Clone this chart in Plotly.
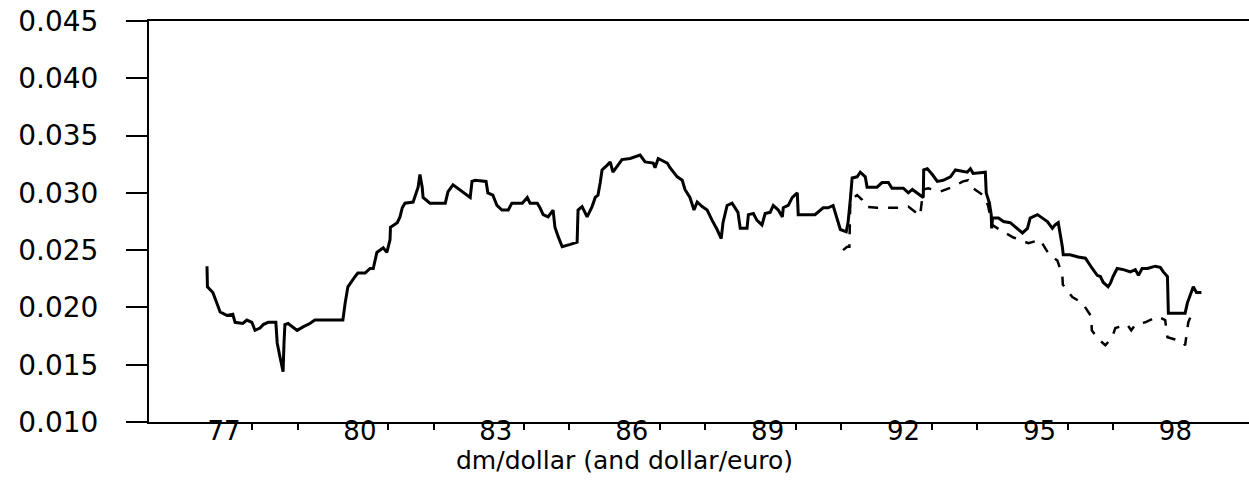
import plotly.graph_objects as go

# Solid series: dm/dollar
solid_year = [1977.00, 1977.01, 1977.13, 1977.22, 1977.29, 1977.44, 1977.57, 1977.62, 1977.79, 1977.88,
              1977.99, 1978.06, 1978.17, 1978.24, 1978.35, 1978.52, 1978.55, 1978.61, 1978.68, 1978.70,
              1978.72, 1978.79, 1978.99, 1979.12, 1979.27, 1979.38, 1979.50, 1979.83, 1980.00, 1980.05,
              1980.11, 1980.27, 1980.33, 1980.49, 1980.60, 1980.67, 1980.75, 1980.89, 1980.97, 1981.04,
              1981.05, 1981.20, 1981.26, 1981.31, 1981.37, 1981.55, 1981.62, 1981.66, 1981.70, 1981.75,
              1981.77, 1981.92, 1982.26, 1982.32, 1982.43, 1982.54, 1982.65, 1982.81, 1982.85, 1982.92,
              1983.16, 1983.20, 1983.31, 1983.40, 1983.51, 1983.65, 1983.73, 1983.96, 1984.07, 1984.13,
              1984.29, 1984.35, 1984.42, 1984.53, 1984.64, 1984.68, 1984.75, 1984.84, 1985.02, 1985.17,
              1985.19, 1985.28, 1985.39, 1985.50, 1985.57, 1985.63, 1985.68, 1985.72, 1985.83, 1985.90,
              1985.96, 1986.05, 1986.16, 1986.34, 1986.56, 1986.67, 1986.85, 1986.89, 1986.96, 1987.16,
              1987.22, 1987.38, 1987.49, 1987.55, 1987.66, 1987.75, 1987.82, 1987.93, 1988.04, 1988.15,
              1988.26, 1988.35, 1988.39, 1988.48, 1988.59, 1988.72, 1988.77, 1988.92, 1988.95, 1989.06,
              1989.14, 1989.25, 1989.32, 1989.43, 1989.50, 1989.61, 1989.70, 1989.72, 1989.83, 1989.92,
              1990.03, 1990.05, 1990.42, 1990.60, 1990.71, 1990.82, 1990.87, 1990.91, 1990.98, 1991.11,
              1991.15, 1991.20, 1991.24, 1991.35, 1991.42, 1991.53, 1991.57, 1991.79, 1991.90, 1992.04,
              1992.12, 1992.37, 1992.48, 1992.57, 1992.74, 1992.81, 1992.82, 1992.90, 1993.01, 1993.12,
              1993.25, 1993.41, 1993.52, 1993.78, 1993.85, 1993.91, 1994.18, 1994.20, 1994.27, 1994.31,
              1994.32, 1994.34, 1994.47, 1994.58, 1994.73, 1994.88, 1995.00, 1995.11, 1995.17, 1995.33,
              1995.44, 1995.55, 1995.66, 1995.72, 1995.79, 1995.83, 1995.88, 1995.90, 1996.05, 1996.23,
              1996.39, 1996.54, 1996.65, 1996.72, 1996.78, 1996.89, 1996.94, 1997.00, 1997.09, 1997.23,
              1997.38, 1997.49, 1997.56, 1997.64, 1997.76, 1997.93, 1998.04, 1998.11, 1998.20, 1998.22,
              1998.33, 1998.59, 1998.64, 1998.70, 1998.77, 1998.84, 1998.95]
solid_val = [0.0236, 0.0218, 0.0213, 0.0204, 0.0196, 0.0193, 0.0194, 0.0187, 0.0186, 0.0189,
             0.0187, 0.0180, 0.0182, 0.0185, 0.0187, 0.0187, 0.0169, 0.0157, 0.0144, 0.0169,
             0.0185, 0.0186, 0.0180, 0.0183, 0.0186, 0.0189, 0.0189, 0.0189, 0.0189, 0.0204,
             0.0218, 0.0227, 0.0230, 0.0230, 0.0234, 0.0234, 0.0248, 0.0252, 0.0248, 0.0259,
             0.0270, 0.0274, 0.0279, 0.0287, 0.0291, 0.0292, 0.0300, 0.0305, 0.0316, 0.0305,
             0.0296, 0.0291, 0.0291, 0.0301, 0.0307, 0.0304, 0.0301, 0.0296, 0.0310, 0.0311,
             0.0310, 0.0300, 0.0298, 0.0289, 0.0285, 0.0285, 0.0291, 0.0291, 0.0296, 0.0291,
             0.0291, 0.0287, 0.0281, 0.0279, 0.0285, 0.0270, 0.0262, 0.0253, 0.0255, 0.0257,
             0.0285, 0.0288, 0.0279, 0.0288, 0.0296, 0.0298, 0.0309, 0.0320, 0.0324, 0.0327,
             0.0318, 0.0323, 0.0329, 0.0330, 0.0333, 0.0327, 0.0326, 0.0322, 0.0330, 0.0326,
             0.0322, 0.0314, 0.0311, 0.0303, 0.0296, 0.0285, 0.0292, 0.0288, 0.0285, 0.0276,
             0.0268, 0.0260, 0.0274, 0.0289, 0.0291, 0.0283, 0.0269, 0.0269, 0.0281, 0.0282,
             0.0276, 0.0272, 0.0282, 0.0283, 0.0289, 0.0285, 0.0279, 0.0287, 0.0289, 0.0296,
             0.0300, 0.0281, 0.0281, 0.0287, 0.0287, 0.0289, 0.0282, 0.0276, 0.0268, 0.0266,
             0.0274, 0.0294, 0.0313, 0.0314, 0.0318, 0.0314, 0.0305, 0.0305, 0.0309, 0.0309,
             0.0304, 0.0304, 0.0300, 0.0303, 0.0298, 0.0296, 0.0320, 0.0321, 0.0316, 0.0310,
             0.0311, 0.0314, 0.0320, 0.0318, 0.0321, 0.0317, 0.0318, 0.0300, 0.0291, 0.0281,
             0.0269, 0.0278, 0.0278, 0.0275, 0.0274, 0.0269, 0.0265, 0.0269, 0.0278, 0.0281,
             0.0278, 0.0275, 0.0269, 0.0272, 0.0274, 0.0266, 0.0253, 0.0246, 0.0246, 0.0244,
             0.0243, 0.0234, 0.0228, 0.0227, 0.0222, 0.0218, 0.0221, 0.0227, 0.0234, 0.0233,
             0.0231, 0.0233, 0.0228, 0.0234, 0.0234, 0.0236, 0.0235, 0.0231, 0.0227, 0.0195,
             0.0195, 0.0195, 0.0204, 0.0211, 0.0218, 0.0213, 0.0213]

# Dashed series: dollar/euro based
dash_year = [1991.04, 1991.13, 1991.18, 1991.20, 1991.35, 1991.46, 1991.53, 1991.79, 1992.08, 1992.37,
             1992.48, 1992.63, 1992.74, 1992.81, 1992.92, 1993.18, 1993.45, 1993.69, 1993.80, 1993.91,
             1994.13, 1994.24, 1994.33, 1994.62, 1994.80, 1994.95, 1995.13, 1995.39, 1995.59, 1995.77,
             1995.88, 1995.89, 1996.10, 1996.32, 1996.52, 1996.53, 1996.68, 1996.83, 1996.98, 1997.05,
             1997.31, 1997.40, 1997.49, 1997.71, 1997.98, 1998.15, 1998.20, 1998.37, 1998.53, 1998.59,
             1998.66, 1998.77]
dash_val = [0.0250, 0.0253, 0.0253, 0.0294, 0.0298, 0.0294, 0.0288, 0.0287, 0.0287, 0.0287,
            0.0288, 0.0283, 0.0280, 0.0303, 0.0304, 0.0301, 0.0305, 0.0310, 0.0311, 0.0304,
            0.0298, 0.0289, 0.0272, 0.0265, 0.0261, 0.0259, 0.0256, 0.0259, 0.0246, 0.0241,
            0.0228, 0.0220, 0.0209, 0.0204, 0.0192, 0.0180, 0.0172, 0.0167, 0.0174, 0.0182,
            0.0185, 0.0180, 0.0185, 0.0187, 0.0192, 0.0189, 0.0174, 0.0172, 0.0170, 0.0167,
            0.0187, 0.0198]

label_years = [1977, 1980, 1983, 1986, 1989, 1992, 1995, 1998]
label_text = ["77", "80", "83", "86", "89", "92", "95", "98"]
minor_years = [y for y in range(1978, 1998) if y not in label_years]
y_ticks = [0.010, 0.015, 0.020, 0.025, 0.030, 0.035, 0.040, 0.045]

FONT = "DejaVu Sans"

fig = go.Figure()
fig.add_trace(go.Scatter(x=dash_year, y=dash_val, mode="lines",
                         line=dict(color="black", width=2.5, dash="10px,10px"),
                         showlegend=False, hoverinfo="skip"))
fig.add_trace(go.Scatter(x=solid_year, y=solid_val, mode="lines",
                         line=dict(color="black", width=3),
                         showlegend=False, hoverinfo="skip"))

fig.update_layout(
    width=1249, height=481,
    margin=dict(l=149, r=0, t=21, b=59, pad=0),
    paper_bgcolor="white", plot_bgcolor="white",
    font=dict(family=FONT, color="black"),
    xaxis=dict(range=[1975.72, 2000.0], showgrid=False, zeroline=False,
               showline=True, linecolor="black", linewidth=2, mirror=True,
               tickmode="array", tickvals=label_years, ticktext=label_text,
               ticks="", ticklabelshift=17, ticklabelstandoff=-15,
               tickfont=dict(size=26, family=FONT),
               minor=dict(tickmode="array", tickvals=minor_years, ticks="outside",
                          ticklen=6, tickwidth=2, tickcolor="black", showgrid=False)),
    yaxis=dict(range=[0.010, 0.045], showgrid=False, zeroline=False,
               showline=True, linecolor="black", linewidth=2,
               tickmode="array", tickvals=y_ticks, tickformat=".3f",
               ticks="outside", ticklen=21, tickwidth=2, tickcolor="black",
               ticklabelstandoff=22, tickfont=dict(size=28, family=FONT)),
    annotations=[dict(text="dm/dollar (and dollar/euro)", xref="paper", yref="paper",
                      x=0.432, y=0, xanchor="center", yanchor="top", yshift=-22,
                      showarrow=False, font=dict(size=25, family=FONT, color="black"))],
)

fig.write_html("out.html")
